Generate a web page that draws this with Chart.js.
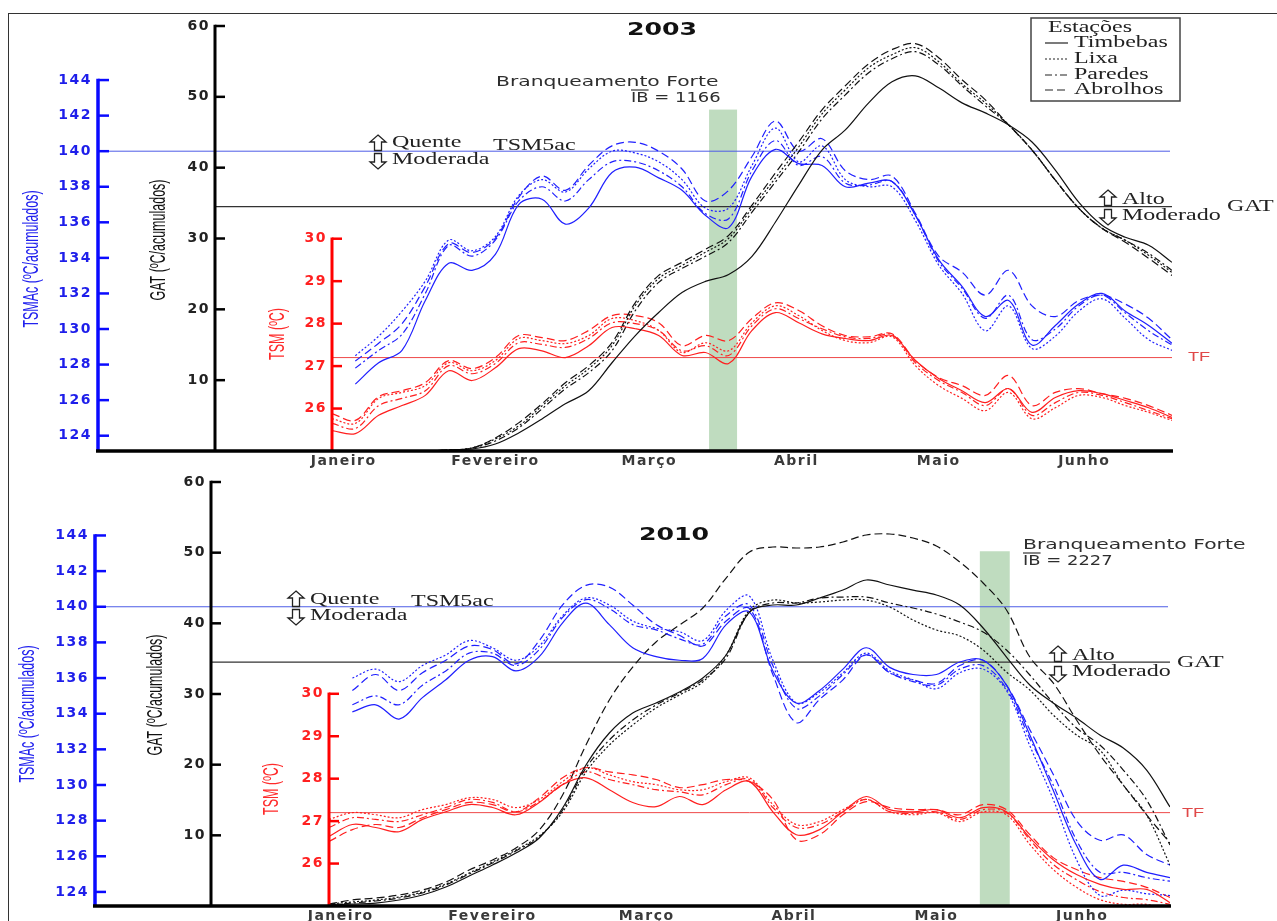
<!DOCTYPE html>
<html lang="pt">
<head>
<meta charset="utf-8">
<title>TSMAc, GAT e TSM - 2003 e 2010</title>
<script src="https://cdn.jsdelivr.net/npm/chart.js@4.4.1/dist/chart.umd.min.js"></script>
<style>
  html, body { margin: 0; padding: 0; background: #fff; overflow: hidden; }
  #page { position: relative; width: 1277px; height: 921px; overflow: hidden; }
  #frame { position: absolute; left: 8px; top: 13px; width: 1300px; height: 950px;
           border-left: 1.5px solid #333; border-top: 1.5px solid #333; }
  canvas { position: absolute; left: 0; }
  #c2003 { top: 0; }
  #c2010 { top: 472px; }
</style>
</head>
<body>
<div id="page">
  <div id="frame"></div>
  <canvas id="c2003" width="1277" height="472"></canvas>
  <canvas id="c2010" width="1277" height="450"></canvas>
</div>
<script>
// Days since 1 January, every 5 days
const days = [0, 5, 10, 15, 20, 25, 30, 35, 40, 45, 50, 55, 60, 65, 70, 75, 80, 85, 90,
  95, 100, 105, 110, 115, 120, 125, 130, 135, 140, 145, 150, 155, 160, 165, 170, 175, 180];

const monthLabels = ['Janeiro', 'Fevereiro', 'Março', 'Abril', 'Maio', 'Junho'];
const monthPos = [2.5, 35, 68, 99.5, 130, 161.2];

const stations = ['Timbebas', 'Lixa', 'Paredes', 'Abrolhos'];

const tsmacTicks = [124, 126, 128, 130, 132, 134, 136, 138, 140, 142, 144];
const gatTicks = [10, 20, 30, 40, 50, 60];
const tsmTicks = [26, 27, 28, 29, 30];

// thresholds
const tsm5ac = 140;
const gatLimit = 34.5;
const tfLimit = 27.2;

// bleaching periods (days) and top of the band (GAT units)
const bleach2003Days = [80.8, 86.8];
const bleach2003Top = 48.2;
const bleach2010Days = [139.3, 145.7];
const bleach2010Top = 50.2;

// ---- 2003 ----
const tsmac2003Timbebas = [null, 126.9, 128.1, 128.8, 131.6, 133.7, 133.3, 134.2, 137.0, 137.3, 135.9, 136.8, 138.8, 139.1, 138.5, 137.8, 136.4, 135.7, 138.6, 140.1, 139.3, 139.2, 138.0, 138.2, 138.3, 136.4, 133.9, 132.4, 130.7, 131.6, 129.1, 130.2, 131.4, 132.0, 131.0, 130.2, 129.2];
const tsmac2003Lixa = [null, 128.5, 129.6, 131.0, 132.7, 135.0, 134.4, 135.2, 137.5, 138.4, 137.7, 139.0, 140.0, 139.9, 139.4, 138.4, 136.8, 136.8, 139.2, 141.3, 139.4, 140.3, 138.4, 138.0, 138.0, 136.1, 133.6, 132.0, 129.9, 131.3, 128.9, 129.6, 131.0, 131.7, 130.6, 129.4, 128.8];
const tsmac2003Paredes = [null, 127.8, 128.8, 129.7, 132.0, 134.7, 134.1, 135.0, 137.2, 138.0, 137.2, 138.4, 139.4, 139.4, 138.9, 138.0, 136.5, 136.2, 138.9, 140.6, 139.2, 139.7, 138.2, 138.1, 138.3, 136.4, 133.8, 132.3, 130.6, 131.9, 129.4, 130.0, 131.3, 131.9, 130.9, 129.9, 129.1];
const tsmac2003Abrolhos = [null, 128.2, 129.2, 130.3, 132.4, 134.8, 134.3, 135.1, 137.4, 138.6, 137.8, 139.2, 140.3, 140.5, 140.0, 139.0, 137.2, 137.8, 139.7, 141.7, 140.0, 140.7, 138.9, 138.4, 138.6, 136.5, 134.1, 133.2, 131.9, 133.3, 131.3, 130.7, 131.6, 131.9, 131.4, 130.6, 129.4];

const tsm2003Timbebas = [25.48, 25.41, 25.84, 26.07, 26.31, 26.89, 26.66, 26.96, 27.41, 27.36, 27.20, 27.48, 27.91, 27.88, 27.72, 27.25, 27.32, 27.06, 27.84, 28.26, 28.02, 27.76, 27.65, 27.60, 27.72, 27.13, 26.71, 26.42, 26.14, 26.47, 25.91, 26.26, 26.42, 26.35, 26.19, 26.02, 25.79];
const tsm2003Lixa = [25.76, 25.65, 26.24, 26.38, 26.54, 27.08, 26.89, 27.13, 27.65, 27.60, 27.53, 27.72, 28.12, 28.07, 27.84, 27.32, 27.55, 27.36, 28.02, 28.42, 28.19, 27.84, 27.60, 27.55, 27.69, 27.01, 26.54, 26.24, 25.95, 26.38, 25.76, 26.02, 26.31, 26.26, 26.07, 25.91, 25.72];
const tsm2003Paredes = [25.65, 25.53, 26.07, 26.24, 26.42, 27.01, 26.82, 27.06, 27.55, 27.51, 27.44, 27.65, 28.02, 28.00, 27.84, 27.36, 27.48, 27.25, 27.95, 28.35, 28.12, 27.88, 27.69, 27.65, 27.74, 27.08, 26.66, 26.38, 26.07, 26.47, 25.84, 26.14, 26.38, 26.31, 26.14, 25.95, 25.76];
const tsm2003Abrolhos = [25.88, 25.72, 26.28, 26.42, 26.61, 27.13, 26.94, 27.20, 27.72, 27.67, 27.60, 27.84, 28.19, 28.19, 28.02, 27.48, 27.72, 27.60, 28.12, 28.49, 28.31, 27.95, 27.72, 27.69, 27.76, 27.13, 26.73, 26.54, 26.31, 26.78, 26.07, 26.38, 26.47, 26.35, 26.24, 26.07, 25.84];

const gat2003Timbebas = [null, null, null, null, 0, 0.14, 0.28, 0.99, 2.55, 4.53, 6.66, 8.50, 12.46, 16.29, 19.55, 22.38, 23.94, 24.93, 27.48, 32.29, 37.54, 42.49, 45.33, 49.15, 52.12, 52.97, 51.27, 49.15, 47.73, 46.03, 43.63, 39.66, 35.13, 31.87, 30.17, 29.04, 26.63];
const gat2003Lixa = [null, null, null, null, 0, 0.14, 0.42, 1.70, 3.54, 6.37, 9.21, 11.61, 14.87, 20.54, 24.36, 26.20, 28.05, 30.03, 34.28, 38.53, 42.92, 47.59, 50.99, 54.11, 55.95, 56.94, 54.96, 51.84, 49.15, 46.03, 42.49, 38.24, 34.28, 31.44, 29.75, 27.62, 25.21];
const gat2003Paredes = [null, null, null, null, 0, 0.14, 0.42, 1.42, 3.26, 5.95, 8.78, 11.05, 14.16, 19.83, 23.80, 25.78, 27.48, 29.46, 33.71, 37.96, 42.21, 46.88, 50.28, 53.40, 55.38, 56.37, 54.53, 51.56, 48.73, 46.03, 42.49, 38.24, 34.28, 31.44, 29.75, 27.90, 25.50];
const gat2003Abrolhos = [null, null, null, null, 0, 0.14, 0.42, 1.84, 3.97, 6.66, 9.63, 12.04, 15.30, 20.96, 24.79, 26.63, 28.47, 30.45, 34.70, 39.24, 43.63, 48.16, 51.56, 54.67, 56.66, 57.51, 55.52, 52.41, 49.58, 46.03, 42.49, 38.24, 34.28, 31.44, 29.46, 27.20, 24.79];

// ---- 2010 ----
const tsmac2010Timbebas = [null, 134.1, 134.5, 133.7, 134.9, 135.9, 137.0, 137.2, 136.4, 137.2, 139.1, 140.2, 139.0, 137.7, 137.2, 137.0, 137.1, 139.0, 139.7, 136.4, 134.6, 135.3, 136.5, 137.7, 136.6, 136.2, 136.2, 136.9, 137.0, 135.6, 132.8, 129.7, 126.6, 124.7, 125.5, 125.1, 124.8];
const tsmac2010Lixa = [null, 136.0, 136.5, 135.8, 136.7, 137.3, 138.1, 137.7, 137.0, 137.8, 139.5, 140.5, 140.1, 139.2, 138.8, 138.6, 138.1, 139.8, 140.6, 137.0, 134.6, 135.2, 136.3, 137.4, 136.4, 135.9, 135.4, 136.3, 136.5, 135.3, 132.2, 129.2, 125.8, 123.8, 124.1, 123.9, 123.8];
const tsmac2010Paredes = [null, 134.5, 135.0, 134.5, 135.6, 136.4, 137.4, 137.4, 136.7, 137.6, 139.4, 140.4, 139.9, 139.0, 138.7, 138.2, 137.9, 139.5, 140.1, 136.7, 134.3, 135.0, 136.2, 137.3, 136.3, 135.8, 135.6, 136.5, 136.7, 135.4, 132.6, 130.0, 126.9, 125.1, 125.1, 124.8, 124.6];
const tsmac2010Abrolhos = [null, 135.3, 136.2, 135.3, 136.3, 137.0, 137.8, 137.6, 136.8, 138.1, 140.1, 141.2, 141.1, 140.1, 139.0, 138.4, 137.8, 139.2, 139.9, 136.2, 133.5, 134.8, 135.9, 137.3, 136.3, 135.9, 135.7, 136.7, 137.0, 135.6, 133.1, 130.6, 128.0, 126.9, 127.2, 126.1, 125.5];

const tsm2010Timbebas = [26.64, 26.92, 26.85, 26.75, 27.04, 27.22, 27.39, 27.32, 27.15, 27.44, 27.86, 28.02, 27.74, 27.44, 27.34, 27.58, 27.39, 27.74, 27.93, 27.22, 26.68, 26.80, 27.22, 27.58, 27.27, 27.22, 27.27, 27.08, 27.32, 27.22, 26.61, 26.09, 25.74, 25.51, 25.39, 25.39, 25.08];
const tsm2010Lixa = [27.04, 27.20, 27.15, 27.08, 27.27, 27.39, 27.55, 27.51, 27.32, 27.51, 27.93, 28.26, 28.09, 27.93, 27.86, 27.74, 27.74, 27.93, 28.02, 27.39, 26.92, 26.99, 27.27, 27.51, 27.22, 27.15, 27.20, 26.99, 27.22, 27.15, 26.45, 25.86, 25.44, 25.15, 25.04, 25.04, 24.92];
const tsm2010Paredes = [26.85, 27.08, 27.04, 26.99, 27.15, 27.32, 27.51, 27.44, 27.22, 27.46, 27.86, 28.16, 27.98, 27.86, 27.74, 27.69, 27.62, 27.86, 27.98, 27.32, 26.85, 26.92, 27.22, 27.51, 27.22, 27.18, 27.22, 27.04, 27.27, 27.20, 26.56, 25.98, 25.62, 25.34, 25.20, 25.15, 25.04];
const tsm2010Abrolhos = [26.52, 26.80, 26.92, 26.85, 27.08, 27.27, 27.44, 27.39, 27.22, 27.55, 28.02, 28.26, 28.16, 28.09, 27.98, 27.79, 27.86, 27.98, 27.93, 27.51, 26.56, 26.68, 27.15, 27.46, 27.32, 27.27, 27.27, 27.15, 27.39, 27.27, 26.68, 26.14, 25.86, 25.67, 25.58, 25.44, 25.20];

const gat2010Timbebas = [0.14, 0.28, 0.42, 0.85, 1.56, 2.69, 4.25, 5.80, 7.50, 9.62, 13.87, 19.95, 24.48, 27.31, 28.73, 30.28, 32.26, 35.52, 41.60, 42.59, 42.59, 43.58, 44.71, 46.13, 45.42, 44.71, 44.01, 42.59, 39.34, 35.23, 31.27, 28.73, 26.60, 24.20, 22.36, 19.24, 14.01];
const gat2010Lixa = [0.28, 0.57, 0.85, 1.27, 1.98, 3.11, 4.67, 6.23, 7.92, 9.91, 13.30, 18.96, 22.78, 25.61, 28.02, 29.86, 31.70, 35.52, 41.89, 43.30, 42.88, 43.02, 43.30, 43.30, 42.31, 40.47, 39.06, 38.21, 36.22, 33.11, 30.56, 27.03, 24.20, 22.07, 17.12, 12.88, 5.80];
const gat2010Paredes = [0.14, 0.42, 0.71, 1.13, 1.84, 2.97, 4.53, 6.08, 7.78, 9.76, 13.58, 19.53, 23.49, 26.32, 28.44, 30.14, 31.98, 35.09, 41.60, 42.88, 42.88, 43.58, 43.72, 43.72, 42.88, 42.17, 41.32, 40.19, 38.77, 36.22, 32.69, 28.73, 25.19, 22.78, 19.24, 15.00, 8.63];
const gat2010Abrolhos = [0.28, 0.85, 1.13, 1.56, 2.26, 3.40, 5.09, 6.51, 8.21, 10.75, 15.71, 22.78, 29.15, 33.82, 37.36, 39.76, 42.17, 46.41, 50.09, 50.80, 50.66, 50.80, 51.51, 52.50, 52.64, 52.07, 50.94, 48.68, 45.71, 41.89, 35.23, 31.56, 26.32, 21.37, 17.12, 12.88, 8.92];

// line style per station
const stationDash = {
  Timbebas: [],
  Lixa: [2, 2],
  Paredes: [7, 3, 2, 3],
  Abrolhos: [8, 4]
};

const BLUE = '#1f1fff';
const RED = '#ff1f1f';
const BLACK = '#111';
const SERIF = '16px "Liberation Serif", serif';

function series(values, station, color, axis) {
  return {
    label: station,
    data: days.map((d, i) => ({ x: d, y: values[i] })),
    yAxisID: axis,
    borderColor: color,
    borderWidth: 1.2,
    borderDash: stationDash[station],
    pointRadius: 0,
    tension: 0.35,
    fill: false
  };
}

function hline(ctx, x0, x1, y, color, w) {
  ctx.strokeStyle = color;
  ctx.lineWidth = w;
  ctx.setLineDash([]);
  ctx.beginPath();
  ctx.moveTo(x0, y);
  ctx.lineTo(x1, y);
  ctx.stroke();
}

// text helper: sx stretches glyphs horizontally on screen
function label(ctx, s, x, y, font, color, opts) {
  opts = opts || {};
  ctx.save();
  ctx.translate(x, y);
  ctx.scale(opts.sx || 1, 1);
  if (opts.rot) ctx.rotate(opts.rot);
  ctx.font = font;
  ctx.fillStyle = color;
  ctx.textAlign = opts.align || 'left';
  ctx.textBaseline = 'middle';
  ctx.fillText(s, 0, 0);
  ctx.restore();
}

function hollowArrow(ctx, x, y, up) {
  const s = up ? -1 : 1;
  ctx.save();
  ctx.strokeStyle = '#222';
  ctx.fillStyle = '#fff';
  ctx.lineWidth = 1.3;
  ctx.setLineDash([]);
  ctx.beginPath();
  ctx.moveTo(x, y + s * 8);
  ctx.lineTo(x + 8, y + s * 1);
  ctx.lineTo(x + 3.5, y + s * 1);
  ctx.lineTo(x + 3.5, y - s * 7.5);
  ctx.lineTo(x - 3.5, y - s * 7.5);
  ctx.lineTo(x - 3.5, y + s * 1);
  ctx.lineTo(x - 8, y + s * 1);
  ctx.closePath();
  ctx.fill();
  ctx.stroke();
  ctx.restore();
}

function drawAxis(ctx, scale, ticks, top, bottom, color, lw, tickLen) {
  const xa = scale.right;
  ctx.setLineDash([]);
  ctx.strokeStyle = color;
  ctx.lineWidth = lw;
  ctx.beginPath();
  ctx.moveTo(xa, scale.getPixelForValue(top) - 1.2);
  ctx.lineTo(xa, bottom);
  ctx.stroke();
  ctx.lineWidth = 2.5;
  ticks.forEach(v => {
    const y = scale.getPixelForValue(v);
    ctx.beginPath();
    ctx.moveTo(xa, y);
    ctx.lineTo(xa + tickLen, y);
    ctx.stroke();
  });
}

const decorPlugin = {
  id: 'decor',
  beforeDraw(chart) {
    if ('letterSpacing' in chart.ctx) chart.ctx.letterSpacing = '1.5px';
  },
  beforeDatasetsDraw(chart, args, o) {
    const ctx = chart.ctx;
    if ('letterSpacing' in ctx) ctx.letterSpacing = '0px';
    const { x, gat, tsmac, tsm } = chart.scales;
    const area = chart.chartArea;
    ctx.save();
    // bleaching band
    const x0 = x.getPixelForValue(o.bleach[0]);
    const x1 = x.getPixelForValue(o.bleach[1]);
    const yTop = gat.getPixelForValue(o.bleachTop);
    ctx.fillStyle = '#bfdcbf';
    ctx.fillRect(x0, yTop, x1 - x0, area.bottom - yTop);
    // threshold lines
    hline(ctx, tsmac.right, area.right - 2, tsmac.getPixelForValue(tsm5ac), '#4d5ce6', 1);
    hline(ctx, gat.right, area.right, gat.getPixelForValue(gatLimit), '#333', 1.2);
    hline(ctx, tsm.right, area.right, tsm.getPixelForValue(tfLimit), '#ee4848', 1);
    ctx.restore();
  },
  afterDraw(chart, args, o) {
    const ctx = chart.ctx;
    const { gat, tsmac, tsm } = chart.scales;
    const area = chart.chartArea;
    ctx.save();
    // axes with inward ticks
    drawAxis(ctx, tsmac, tsmacTicks, 144, area.bottom, '#0a0aff', 3.5, 11);
    drawAxis(ctx, gat, gatTicks, 60, area.bottom, '#000', 3, 10);
    drawAxis(ctx, tsm, tsmTicks, 30, area.bottom, '#ff0000', 3, 10);
    hline(ctx, tsmac.right - 2, area.right + 1, area.bottom, '#000', 3.5);

    ctx.translate(0, -o.pageTop);

    // axis titles
    const tfont = '12.5px "Liberation Sans", Arial, sans-serif';
    const rot = -Math.PI / 2;
    label(ctx, 'TSMAc (ºC/acumulados)', o.titles.tsmac[0], o.titles.tsmac[1], tfont, '#2222ee', { sx: 1.7, rot, align: 'center' });
    label(ctx, 'GAT (ºC/acumulados)', o.titles.gat[0], o.titles.gat[1], tfont, '#111', { sx: 1.7, rot, align: 'center' });
    label(ctx, 'TSM (ºC)', o.titles.tsm[0], o.titles.tsm[1], tfont, '#ff2a2a', { sx: 1.7, rot, align: 'center' });

    // year
    label(ctx, o.year.text, o.year.x, o.year.y, 'bold 18px "DejaVu Sans", sans-serif', '#111', { sx: 1.4, align: 'center' });

    // bleaching text
    const bt = o.bleachText;
    const bfont = '14px "DejaVu Sans", sans-serif';
    label(ctx, 'Branqueamento Forte', bt.x, bt.y, bfont, '#2e2e2e', { sx: 1.45 });
    label(ctx, bt.ib, bt.ibX, bt.ibY, bfont, '#2e2e2e', { sx: 1.28 });
    ctx.font = bfont;
    const ibw = ctx.measureText('IB').width * 1.28;
    hline(ctx, bt.ibX, bt.ibX + ibw, bt.ibY - 8, '#333', 1.2);

    // TSM5ac thresholds
    const w = o.warm;
    hollowArrow(ctx, w.x, w.y1, true);
    hollowArrow(ctx, w.x, w.y2, false);
    label(ctx, 'Quente', w.tx, w.ty1, SERIF, '#222', { sx: 1.5 });
    label(ctx, 'Moderada', w.tx, w.ty2, SERIF, '#222', { sx: 1.5 });
    label(ctx, 'TSM5ac', w.tsmX, w.tsmY, SERIF, '#222', { sx: 1.5 });

    // GAT thresholds
    const g = o.gatText;
    hollowArrow(ctx, g.x, g.y1, true);
    hollowArrow(ctx, g.x, g.y2, false);
    label(ctx, 'Alto', g.tx, g.ty1, SERIF, '#222', { sx: 1.5 });
    label(ctx, 'Moderado', g.tx, g.ty2, SERIF, '#222', { sx: 1.5 });
    label(ctx, 'GAT', g.gx, g.gy, SERIF, '#222', { sx: 1.5 });

    // TF
    label(ctx, 'TF', o.tf.x, o.tf.y, '13px "Liberation Sans", sans-serif', '#e04848', { sx: 1.4 });

    // legend
    if (o.legend) {
      ctx.setLineDash([]);
      ctx.strokeStyle = '#444';
      ctx.lineWidth = 1.5;
      ctx.strokeRect(1031, 18, 149, 83);
      label(ctx, 'Estações', 1048, 28, SERIF, '#222', { sx: 1.5 });
      const ys = [43, 59, 75, 90];
      stations.forEach((st, i) => {
        ctx.setLineDash(stationDash[st]);
        ctx.strokeStyle = '#222';
        ctx.lineWidth = 1.2;
        ctx.beginPath();
        ctx.moveTo(1045, ys[i]);
        ctx.lineTo(1068, ys[i]);
        ctx.stroke();
        label(ctx, st, 1074, ys[i], SERIF, '#222', { sx: 1.5 });
      });
      ctx.setLineDash([]);
    }
    ctx.restore();
  }
};

const tickFont = { family: 'DejaVu Sans', size: 14, weight: 'bold' };

function yAxis(weight, min, max, ticks, width, color, pad) {
  return {
    type: 'linear',
    position: 'left',
    weight: weight,
    min: min,
    max: max,
    grid: { display: false, drawTicks: false },
    border: { display: false },
    afterBuildTicks: s => { s.ticks = ticks.map(v => ({ value: v })); },
    afterFit: s => { s.width = width; s.paddingTop = 0; s.paddingBottom = 0; },
    ticks: { font: tickFont, color: color, padding: pad }
  };
}

function makePanel(canvasId, p) {
  const datasets = [];
  stations.forEach((st, i) => {
    datasets.push(series(p.gat[i], st, BLACK, 'gat'));
    datasets.push(series(p.tsmac[i], st, BLUE, 'tsmac'));
    datasets.push(series(p.tsm[i], st, RED, 'tsm'));
  });

  return new Chart(document.getElementById(canvasId), {
    type: 'line',
    data: { datasets },
    options: {
      responsive: false,
      animation: false,
      events: [],
      layout: { padding: { top: p.padTop, right: p.padRight, bottom: 0, left: 0 } },
      plugins: {
        legend: { display: false },
        tooltip: { enabled: false },
        decor: p.decor
      },
      scales: {
        x: {
          type: 'linear',
          position: 'bottom',
          min: 0,
          max: 180,
          grid: { display: false, drawTicks: false },
          border: { display: false },
          afterBuildTicks: s => { s.ticks = monthPos.map(v => ({ value: v })); },
          afterFit: s => { s.height = p.xHeight; s.paddingLeft = 0; s.paddingRight = 0; },
          ticks: {
            font: tickFont,
            color: '#3a3a3a',
            padding: 2,
            maxRotation: 0,
            autoSkip: false,
            callback: (v, i) => monthLabels[i]
          }
        },
        tsm: yAxis(0, p.tsmRange[0], p.tsmRange[1], tsmTicks, p.widths[2], '#ff2020', 5),
        gat: yAxis(1, 0, 60, gatTicks, p.widths[1], '#222', 5),
        tsmac: yAxis(2, p.tsmacRange[0], p.tsmacRange[1], tsmacTicks, p.widths[0], '#1e1eea', 6)
      }
    },
    plugins: [decorPlugin]
  });
}

makePanel('c2003', {
  gat: [gat2003Timbebas, gat2003Lixa, gat2003Paredes, gat2003Abrolhos],
  tsmac: [tsmac2003Timbebas, tsmac2003Lixa, tsmac2003Paredes, tsmac2003Abrolhos],
  tsm: [tsm2003Timbebas, tsm2003Lixa, tsm2003Paredes, tsm2003Abrolhos],
  padTop: 26,
  padRight: 105,
  xHeight: 21,
  widths: [98, 117, 117],
  tsmacRange: [123.14, 147.04],
  tsmRange: [25, 35.01],
  decor: {
    pageTop: 0,
    bleach: bleach2003Days,
    bleachTop: bleach2003Top,
    year: { text: '2003', x: 662, y: 30 },
    bleachText: { x: 496, y: 82, ib: 'IB = 1166', ibX: 631, ibY: 98 },
    warm: { x: 378, y1: 143, y2: 161, tx: 392, ty1: 143, ty2: 160, tsmX: 493, tsmY: 146 },
    gatText: { x: 1108, y1: 198, y2: 217, tx: 1122, ty1: 200, ty2: 216, gx: 1227, gy: 207 },
    tf: { x: 1188, y: 357 },
    titles: { tsmac: [32, 259], gat: [159, 240], tsm: [278, 334] },
    legend: true
  }
});

makePanel('c2010', {
  gat: [gat2010Timbebas, gat2010Lixa, gat2010Paredes, gat2010Abrolhos],
  tsmac: [tsmac2010Timbebas, tsmac2010Lixa, tsmac2010Paredes, tsmac2010Abrolhos],
  tsm: [tsm2010Timbebas, tsm2010Lixa, tsm2010Paredes, tsm2010Abrolhos],
  padTop: 10,
  padRight: 107,
  xHeight: 16,
  widths: [95, 116, 118],
  tsmacRange: [123.21, 147.0],
  tsmRange: [25, 34.99],
  decor: {
    pageTop: 472,
    bleach: bleach2010Days,
    bleachTop: bleach2010Top,
    year: { text: '2010', x: 674, y: 535 },
    bleachText: { x: 1023, y: 545, ib: 'IB = 2227', ibX: 1023, ibY: 561 },
    warm: { x: 296, y1: 599, y2: 617, tx: 310, ty1: 600, ty2: 616, tsmX: 411, tsmY: 602 },
    gatText: { x: 1058, y1: 654, y2: 674, tx: 1072, ty1: 656, ty2: 672, gx: 1177, gy: 663 },
    tf: { x: 1182, y: 813 },
    titles: { tsmac: [28, 714], gat: [156, 695], tsm: [272, 789] },
    legend: false
  }
});
</script>
</body>
</html>
